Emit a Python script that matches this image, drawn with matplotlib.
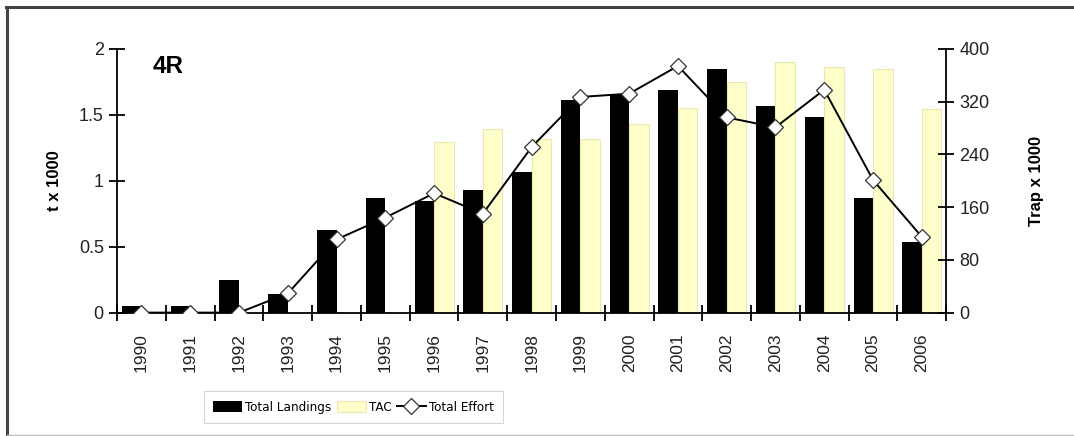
import numpy as np
import matplotlib
matplotlib.use("Agg")
import matplotlib.pyplot as plt
from matplotlib import font_manager
from matplotlib.font_manager import FontProperties
from matplotlib.lines import Line2D

# data
years = [str(y) for y in range(1990, 2007)]
landings = [0.05, 0.05, 0.25, 0.14, 0.63, 0.87, 0.85, 0.93, 1.065, 1.61,
            1.655, 1.69, 1.85, 1.57, 1.48, 0.87, 0.535]
tac = [0, 0, 0, 0, 0, 0, 1.29, 1.39, 1.32, 1.32,
       1.43, 1.55, 1.745, 1.90, 1.86, 1.85, 1.545]
effort = [0, 0, 0, 29, 111, 144, 181, 150, 251, 327,
          332, 374, 296, 281, 338, 201, 115]

plt.rcParams['font.family'] = ['Liberation Sans', 'DejaVu Sans']

# legend in the original uses a narrow face, take one if there is one
leg_prop = None
for f in font_manager.fontManager.ttflist:
    if 'Narrow' in f.name or 'Condensed' in f.name or 'condensed' in str(f.stretch):
        if 'Bold' not in f.fname and 'Italic' not in f.fname and 'Oblique' not in f.fname:
            leg_prop = FontProperties(fname=f.fname, size=9.6)
            break
if leg_prop is None:
    leg_prop = FontProperties(family='Liberation Sans', size=8.6)

fig = plt.figure(figsize=(10.74, 4.36), dpi=100)
ax = fig.add_axes([0.109, 0.283, 0.772, 0.605])
ax2 = ax.twinx()

x = np.arange(len(years))
w = 0.4
ax.bar(x - w / 2, landings, w, color='black', label='Total Landings', zorder=2)
ax.bar(x + w / 2, tac, w, color='#ffffcc', edgecolor='#e8e8b0', linewidth=0.8,
       label='TAC', zorder=2)
ax2.plot(x, effort, color='black', lw=1.4, marker='D', ms=8.5, mfc='white',
         mec='#333333', mew=0.9, label='Total Effort', zorder=3)

ax.set_xlim(-0.5, len(years) - 0.5)
ax.set_ylim(0, 2)
ax2.set_ylim(0, 400)
ax.set_yticks([0, 0.5, 1, 1.5, 2])
ax.set_yticklabels(['0', '0.5', '1', '1.5', '2'])
ax2.set_yticks([0, 80, 160, 240, 320, 400])

ax.set_xticks(x)
ax.set_xticklabels(years, rotation=90, fontsize=12.5, color='#222222')
ax.tick_params(axis='x', length=0, pad=15)
ax.set_xticks(np.arange(-0.5, len(years)), minor=True)
ax.tick_params(axis='x', which='minor', direction='inout', length=11, width=1.3)

ax.tick_params(axis='y', direction='inout', length=11, width=1.3,
               labelsize=13, labelcolor='#222222', pad=4)
ax2.tick_params(axis='y', direction='inout', length=11, width=1.3,
                labelsize=13, labelcolor='#222222', pad=4)

for a in (ax, ax2):
    a.spines['top'].set_visible(False)
    a.spines['left'].set_linewidth(1.3)
    a.spines['right'].set_linewidth(1.3)
    a.spines['bottom'].set_linewidth(1.3)
ax.spines['right'].set_visible(False)
ax2.spines['left'].set_visible(False)
ax2.spines['bottom'].set_visible(False)

ax.set_ylabel('t x 1000', fontsize=12, fontweight='bold')
ax2.set_ylabel('Trap x 1000', fontsize=12, fontweight='bold', labelpad=28)
ax.yaxis.set_label_coords(-0.066, 0.5)

ax.text(0.043, 0.975, '4R', transform=ax.transAxes, fontsize=17.5,
        fontweight='bold', va='top')

h1, l1 = ax.get_legend_handles_labels()
h2, l2 = ax2.get_legend_handles_labels()
leg = fig.legend(h1 + h2, l1 + l2, loc='center', bbox_to_anchor=(0.329, 0.066),
                 ncol=3, frameon=True, fancybox=False, edgecolor='#cccccc',
                 prop=leg_prop, handlelength=2.2, handleheight=0.9,
                 handletextpad=0.2, columnspacing=0.4, borderpad=0.7)
leg.get_frame().set_linewidth(0.8)

# outer frame like the pasted chart
fig.add_artist(Line2D([6 / 1074, 1], [1 - 7 / 436, 1 - 7 / 436],
                      transform=fig.transFigure, color='#444444', lw=2.2))
fig.add_artist(Line2D([7 / 1074, 7 / 1074], [0, 1 - 7 / 436],
                      transform=fig.transFigure, color='#444444', lw=2.2))
fig.add_artist(Line2D([7 / 1074, 1], [1 / 436, 1 / 436],
                      transform=fig.transFigure, color='#bbbbbb', lw=1))

fig.savefig('out.png', dpi=100)
